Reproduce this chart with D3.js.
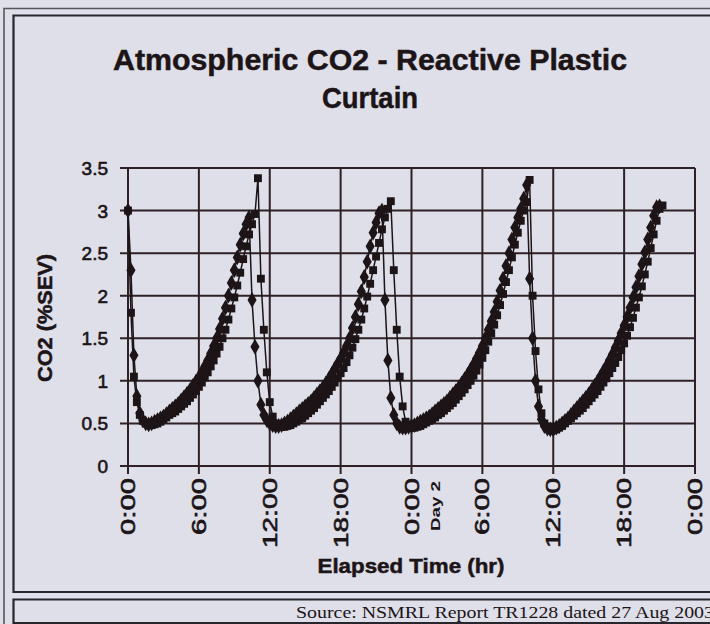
<!DOCTYPE html>
<html>
<head>
<meta charset="utf-8">
<script src="https://cdn.jsdelivr.net/npm/d3@7"></script>
<style>
  html, body { margin: 0; padding: 0; background: #dedfe8; }
  svg { display: block; }
</style>
</head>
<body>
<svg id="chart" width="710" height="624"></svg>
<script>
// Sampling interval of the CO2 readings, in hours (15 min)
const sampleHours = 0.25;

// Channel 1 (square markers), CO2 in %SEV, one value per 15 min from 0:00
const seriesSquares = [
  3.0, 1.8, 1.05, 0.75, 0.6, 0.53, 0.5, 0.48, 0.48, 0.49, 0.5, 0.52,
  0.55, 0.57, 0.6, 0.62, 0.64, 0.67, 0.7, 0.73, 0.76, 0.8, 0.84, 0.88,
  0.93, 0.98, 1.04, 1.1, 1.17, 1.24, 1.32, 1.4, 1.5, 1.6, 1.72, 1.85,
  1.98, 2.12, 2.27, 2.43, 2.58, 2.72, 2.84, 2.96, 3.38, 2.2, 1.6, 1.1,
  0.75, 0.58, 0.5, 0.47, 0.46, 0.46, 0.47, 0.48, 0.5, 0.52, 0.54, 0.56,
  0.59, 0.62, 0.65, 0.68, 0.72, 0.76, 0.8, 0.84, 0.88, 0.93, 0.98, 1.03,
  1.09, 1.15, 1.22, 1.3, 1.39, 1.49, 1.6, 1.72, 1.85, 1.99, 2.14, 2.3,
  2.46, 2.62, 2.78, 2.92, 3.02, 3.11, 2.3, 1.6, 1.05, 0.7, 0.52, 0.47,
  0.45, 0.45, 0.46, 0.47, 0.49, 0.51, 0.53, 0.55, 0.57, 0.6, 0.62, 0.65,
  0.68, 0.71, 0.74, 0.78, 0.82, 0.86, 0.9, 0.95, 1.0, 1.06, 1.12, 1.19,
  1.27, 1.36, 1.46, 1.56, 1.66, 1.77, 1.89, 2.02, 2.16, 2.3, 2.45, 2.6,
  2.74, 2.88, 3.0, 3.1, 3.36, 2.0, 1.35, 0.9, 0.62, 0.5, 0.45, 0.42,
  0.42, 0.43, 0.45, 0.47, 0.5, 0.53, 0.56, 0.59, 0.62, 0.65, 0.68, 0.72,
  0.76, 0.8, 0.84, 0.88, 0.93, 0.98, 1.03, 1.09, 1.15, 1.21, 1.28, 1.36,
  1.44, 1.53, 1.63, 1.74, 1.86, 1.98, 2.11, 2.25, 2.4, 2.56, 2.72, 2.88,
  3.02, 3.06
];

// Channel 2 (diamond markers), CO2 in %SEV, one value per 15 min from 0:00
const seriesDiamonds = [
  3.0, 2.3, 1.3, 0.82, 0.62, 0.54, 0.5, 0.49, 0.5, 0.52, 0.54, 0.56,
  0.58, 0.61, 0.64, 0.67, 0.7, 0.73, 0.77, 0.81, 0.85, 0.89, 0.94, 0.99,
  1.04, 1.1, 1.17, 1.24, 1.32, 1.41, 1.5, 1.61, 1.73, 1.86, 2.0, 2.15,
  2.3, 2.45, 2.6, 2.73, 2.84, 2.92, 1.95, 1.4, 1.0, 0.72, 0.6, 0.54,
  0.5, 0.48, 0.47, 0.47, 0.48, 0.5, 0.52, 0.55, 0.58, 0.61, 0.64, 0.67,
  0.7, 0.73, 0.76, 0.8, 0.84, 0.88, 0.92, 0.97, 1.02, 1.08, 1.14, 1.2,
  1.26, 1.33, 1.41, 1.5, 1.62, 1.75, 1.9, 2.05, 2.22, 2.4, 2.58, 2.74,
  2.86, 2.97, 3.0, 1.95, 1.24, 0.8, 0.6, 0.5, 0.46, 0.45, 0.45, 0.46,
  0.47, 0.48, 0.5, 0.52, 0.54, 0.56, 0.58, 0.61, 0.64, 0.67, 0.7, 0.73,
  0.76, 0.8, 0.84, 0.88, 0.92, 0.97, 1.02, 1.07, 1.13, 1.19, 1.26, 1.33,
  1.41, 1.5, 1.6, 1.7, 1.81, 1.93, 2.06, 2.2, 2.35, 2.5, 2.66, 2.8,
  2.92, 3.02, 3.14, 3.3, 2.2, 1.5, 1.0, 0.7, 0.55, 0.47, 0.44, 0.43,
  0.43, 0.45, 0.47, 0.5, 0.53, 0.56, 0.6, 0.64, 0.68, 0.72, 0.76, 0.8,
  0.84, 0.89, 0.94, 0.99, 1.05, 1.11, 1.17, 1.24, 1.31, 1.39, 1.47, 1.56,
  1.65, 1.75, 1.86, 1.98, 2.1, 2.23, 2.37, 2.51, 2.66, 2.8, 2.94, 3.04,
  3.05
];

// Axis ticks
const xTickHours  = [0, 6, 12, 18, 24, 30, 36, 42, 48];
const xTickLabels = ["0:00", "6:00", "12:00", "18:00", "0:00", "6:00", "12:00", "18:00", "0:00"];
const yTickValues = [0, 0.5, 1, 1.5, 2, 2.5, 3, 3.5];
const yTickLabels = ["0", "0.5", "1", "1.5", "2", "2.5", "3", "3.5"];

const titleLines = ["Atmospheric CO2 - Reactive Plastic", "Curtain"];
const yTitle = "CO2 (%SEV)";
const xTitle = "Elapsed Time (hr)";
const dayMarker = "Day 2";
const sourceNote = "Source: NSMRL Report TR1228 dated 27 Aug 2003";

const ink = "#1c1417";
const gridInk = "#2e2024";
const sans = "'Liberation Sans', Arial, sans-serif";
const serif = "'Liberation Serif', 'Times New Roman', serif";

const svg = d3.select("#chart");

// Panel frames: outer double rule, chart panel, source strip
const frame = svg.append("g").attr("fill", "none");
frame.append("path").attr("d", "M4,626 V8.5 H712").attr("stroke", "#55555c").attr("stroke-width", 1.6);
frame.append("path").attr("d", "M712,15.5 H13.5 V592 H712").attr("stroke", "#26262c").attr("stroke-width", 2.2);
frame.append("path").attr("d", "M712,599.5 H13.5 V626").attr("stroke", "#26262c").attr("stroke-width", 2.2);
frame.append("path").attr("d", "M13,623 H712").attr("stroke", "#26262c").attr("stroke-width", 2);

// Scales
const x = d3.scaleLinear().domain([0, 48]).range([128, 695]);
const y = d3.scaleLinear().domain([0, 3.5]).range([466, 168]);

// Grid (horizontal rules extend left as tick marks, vertical rules extend down)
const grid = svg.append("g").attr("stroke", gridInk).attr("stroke-width", 2);
grid.selectAll("line.h").data(yTickValues).join("line")
  .attr("class", "h")
  .attr("x1", x(0) - 8).attr("x2", x(48))
  .attr("y1", d => y(d)).attr("y2", d => y(d));
grid.selectAll("line.v").data(xTickHours).join("line")
  .attr("class", "v")
  .attr("x1", d => x(d)).attr("x2", d => x(d))
  .attr("y1", y(3.5)).attr("y2", y(0) + 8);

// Y tick labels
svg.append("g").selectAll("text").data(yTickValues).join("text")
  .attr("x", x(0) - 20)
  .attr("y", d => y(d) + 7)
  .attr("text-anchor", "end")
  .attr("font-family", sans).attr("font-size", 19)
  .attr("fill", ink).attr("stroke", ink).attr("stroke-width", 0.6)
  .text((d, i) => yTickLabels[i]);

// X tick labels, rotated
const xLabelLen = { "0:00": 57, "6:00": 57, "12:00": 70, "18:00": 70 };
svg.append("g").selectAll("text").data(xTickHours).join("text")
  .attr("transform", d => `translate(${x(d) + 7},478) rotate(-90)`)
  .attr("text-anchor", "end")
  .attr("font-family", sans).attr("font-size", 20)
  .attr("fill", ink).attr("stroke", ink).attr("stroke-width", 0.6)
  .attr("textLength", (d, i) => xLabelLen[xTickLabels[i]])
  .attr("lengthAdjust", "spacingAndGlyphs")
  .text((d, i) => xTickLabels[i]);

// Day boundary note next to the second 0:00
svg.append("text")
  .attr("transform", `translate(${x(24) + 28},481) rotate(-90)`)
  .attr("text-anchor", "end")
  .attr("font-family", sans).attr("font-size", 12).attr("font-weight", "bold")
  .attr("fill", ink)
  .attr("textLength", 50).attr("lengthAdjust", "spacingAndGlyphs")
  .text(dayMarker);

// Titles
const titleG = svg.append("g").attr("font-family", sans).attr("font-weight", "bold")
  .attr("fill", ink).attr("stroke", ink).attr("stroke-width", 0.5);
titleG.append("text").attr("x", 370).attr("y", 70).attr("text-anchor", "middle")
  .attr("font-size", 30).attr("textLength", 514).attr("lengthAdjust", "spacingAndGlyphs")
  .text(titleLines[0]);
titleG.append("text").attr("x", 370).attr("y", 108).attr("text-anchor", "middle")
  .attr("font-size", 30).attr("textLength", 96).attr("lengthAdjust", "spacingAndGlyphs")
  .text(titleLines[1]);

titleG.append("text")
  .attr("transform", "translate(52,318) rotate(-90)")
  .attr("text-anchor", "middle").attr("font-size", 20)
  .attr("textLength", 128).attr("lengthAdjust", "spacingAndGlyphs")
  .text(yTitle);

titleG.append("text")
  .attr("x", 411).attr("y", 573).attr("text-anchor", "middle").attr("font-size", 21)
  .attr("textLength", 187).attr("lengthAdjust", "spacingAndGlyphs")
  .text(xTitle);

// Source note
svg.append("text")
  .attr("x", 296).attr("y", 618)
  .attr("font-family", serif).attr("font-size", 16).attr("fill", ink)
  .attr("textLength", 418).attr("lengthAdjust", "spacingAndGlyphs")
  .text(sourceNote);

// Data series
const toPoints = arr => arr.map((v, i) => ({ t: i * sampleHours, v }));
const series = [
  { name: "squares", points: toPoints(seriesSquares), symbol: d3.symbolSquare, size: 62 },
  { name: "diamonds", points: toPoints(seriesDiamonds), symbol: d3.symbolDiamond, size: 72 }
];

const line = d3.line().x(d => x(d.t)).y(d => y(d.v));
const plot = svg.append("g");
series.forEach(s => {
  plot.append("path")
    .attr("d", line(s.points))
    .attr("fill", "none").attr("stroke", ink).attr("stroke-width", 1.5);
});
series.forEach(s => {
  const sym = d3.symbol().type(s.symbol).size(s.size);
  plot.append("g").selectAll("path").data(s.points).join("path")
    .attr("transform", d => `translate(${x(d.t)},${y(d.v)})`)
    .attr("d", sym)
    .attr("fill", ink);
});
</script>
</body>
</html>
